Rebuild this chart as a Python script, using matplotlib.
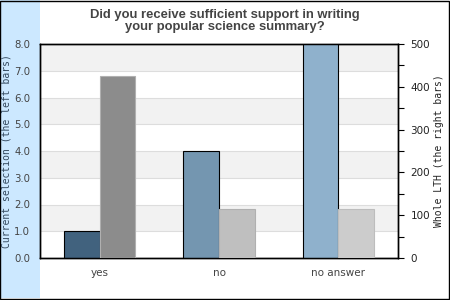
import numpy as np
import matplotlib

matplotlib.use("Agg")
import matplotlib.pyplot as plt
from matplotlib.patches import Rectangle

# data
categories = ["yes", "no", "no answer"]
current_vals = [1.0, 4.0, 8.0]        # left axis
whole_lth_vals = [425, 115, 115]      # right axis

left_colors = ["#41627e", "#7496b0", "#8fb1cc"]
right_colors = ["#8c8c8c", "#bfbfbf", "#cccccc"]
right_edges = ["#b0b0b0", "#b0b0b0", "#bdbdbd"]

TXT = "#444444"

fig = plt.figure(figsize=(4.5, 3.0), dpi=100)
fig.patch.set_facecolor("white")

# light blue strip on the left + outer border (drawn below the axes)
fig.patches.append(Rectangle((0, 0.007), 40 / 450, 0.993, transform=fig.transFigure,
                             facecolor="#cce8ff", edgecolor="none", zorder=-2))
fig.patches.append(Rectangle((0.001, 0.002), 0.997, 0.995, transform=fig.transFigure,
                             facecolor="none", edgecolor="black", linewidth=1.0, zorder=-1))

ax = fig.add_axes([40 / 450, 42 / 300, 358 / 450, 214 / 300])
ax2 = ax.twinx()

x = np.arange(len(categories))
w = 0.30

# alternating background bands + grid lines
for lo in range(1, 8, 2):
    ax.axhspan(lo, lo + 1, color="#f2f2f2", zorder=0, linewidth=0)
for y in range(1, 8):
    ax.axhline(y, color="#dddddd", linewidth=0.8, zorder=0.5)

ax.bar(x - w / 2, current_vals, w, color=left_colors, edgecolor="black",
       linewidth=0.8, zorder=3)
ax2.bar(x + w / 2, whole_lth_vals, w, color=right_colors, edgecolor=right_edges,
        linewidth=0.8, zorder=3)

ax.set_xlim(-0.5, 2.5)
ax.set_ylim(0, 8)
ax2.set_ylim(0, 500)

ax.set_yticks(np.arange(0, 9, 1))
ax.set_yticklabels([f"{v:.1f}" for v in range(0, 9)], fontsize=7.3, color=TXT)
ax.tick_params(axis="y", length=0, pad=7)
ax.set_xticks(x)
ax.set_xticklabels(categories, fontsize=7.5, color=TXT)
ax.tick_params(axis="x", length=0, pad=7)

ax2.set_yticks(np.arange(0, 501, 100))
ax2.set_yticks(np.arange(50, 500, 100), minor=True)
ax2.set_yticklabels([str(v) for v in range(0, 501, 100)], fontsize=7.5, color="#222222")
ax2.tick_params(axis="y", which="both", length=4, width=0.8, pad=5)

ax.set_ylabel("Current selection (the left bars)", family="DejaVu Sans Mono",
              fontsize=7, color="#34495e")
ax.yaxis.set_label_coords(-0.079, 0.5)
ax2.set_ylabel("Whole LTH (the right bars)", family="DejaVu Sans Mono",
               fontsize=7, color="#222222", labelpad=3)

for a in (ax, ax2):
    for s in a.spines.values():
        s.set_linewidth(1.0)
        s.set_color("black")
ax2.zorder = ax.zorder + 1
ax2.patch.set_visible(False)

fig.text(0.5, 0.93, "Did you receive sufficient support in writing\nyour popular science summary?",
         ha="center", va="center", fontsize=9.4, fontweight="bold", color=TXT,
         family="Liberation Sans", linespacing=1.05)

fig.savefig("out.png", dpi=100)
